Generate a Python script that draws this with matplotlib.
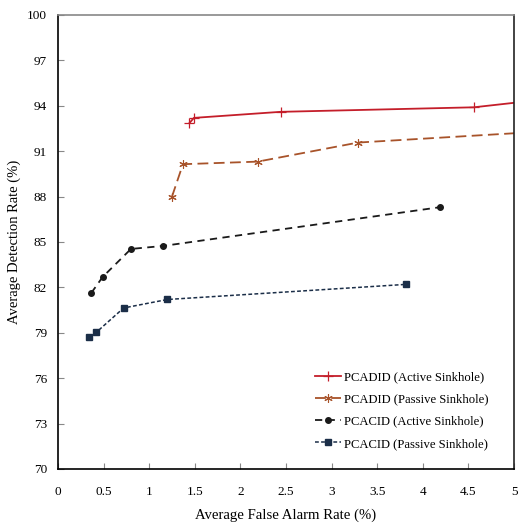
import matplotlib
matplotlib.use("Agg")
import matplotlib.pyplot as plt

# data
x_pcadid_active = [1.44, 1.49, 2.44, 4.56, 5.6]
y_pcadid_active = [92.85, 93.2, 93.6, 93.9, 94.6]

x_pcadid_passive = [1.25, 1.37, 2.19, 3.29, 5.6]
y_pcadid_passive = [88.0, 90.14, 90.31, 91.57, 92.4]

x_pcacid_active = [0.365, 0.49, 0.80, 1.155, 4.19]
y_pcacid_active = [81.63, 82.69, 84.54, 84.74, 87.3]

x_pcacid_passive = [0.34, 0.42, 0.72, 1.2, 3.82]
y_pcacid_passive = [78.7, 79.03, 80.64, 81.2, 82.2]

x_ticks = [0, 0.5, 1, 1.5, 2, 2.5, 3, 3.5, 4, 4.5, 5]
x_tick_labels = ["0", "0.5", "1", "1.5", "2", "2.5", "3", "3.5", "4", "4.5", "5"]
y_ticks = [70, 73, 76, 79, 82, 85, 88, 91, 94, 97, 100]

plt.rcParams["font.family"] = ["Liberation Serif", "DejaVu Serif"]

fig = plt.figure(figsize=(5.21, 5.24), dpi=100)
ax = fig.add_axes([0.1113, 0.105, 0.8753, 0.8664])

ax.plot(
    x_pcadid_active,
    y_pcadid_active,
    color="#C41E2A",
    linewidth=1.3,
    marker="+",
    markersize=7,
    markeredgewidth=0.9,
    label="PCADID (Active Sinkhole)",
)

ax.plot(
    x_pcadid_passive,
    y_pcadid_passive,
    color="#A8532A",
    linewidth=1.3,
    linestyle=(0, (6, 3)),
    marker=(6, 2, 0),
    markersize=6,
    markeredgewidth=0.8,
    label="PCADID (Passive Sinkhole)",
)

ax.plot(
    x_pcacid_active,
    y_pcacid_active,
    color="#1A1A1A",
    linewidth=1.3,
    linestyle=(0, (4, 3)),
    marker="o",
    markersize=4,
    label="PCACID (Active Sinkhole)",
)

ax.plot(
    x_pcacid_passive,
    y_pcacid_passive,
    color="#1B2E48",
    linewidth=1.1,
    linestyle=(0, (2.5, 1.5)),
    marker="s",
    markersize=4.5,
    label="PCACID (Passive Sinkhole)",
)

ax.set_xlim(0, 5)
ax.set_ylim(70, 100)
ax.set_xticks(x_ticks)
ax.set_xticklabels(x_tick_labels)
ax.set_yticks(y_ticks)

ax.tick_params(
    direction="in",
    length=4,
    color="#888888",
    labelsize=9.5,
)
ax.tick_params(axis="x", pad=12)
ax.tick_params(axis="y", pad=8)

ax.spines["top"].set_color("#888888")
ax.spines["right"].set_color("#222222")
ax.spines["left"].set_color("black")
ax.spines["bottom"].set_color("black")
for side in ["top", "right", "left", "bottom"]:
    ax.spines[side].set_linewidth(1.2)

ax.set_xlabel("Average False Alarm Rate (%)", fontsize=10.6, labelpad=8)
ax.set_ylabel("Average Detection Rate (%)", fontsize=10.5, labelpad=4)

ax.legend(
    loc="lower right",
    bbox_to_anchor=(0.97, 0.017),
    frameon=False,
    fontsize=9.1,
    handlelength=2.0,
    handletextpad=0.3,
    labelspacing=0.8,
)

fig.savefig("out.png", dpi=100)
